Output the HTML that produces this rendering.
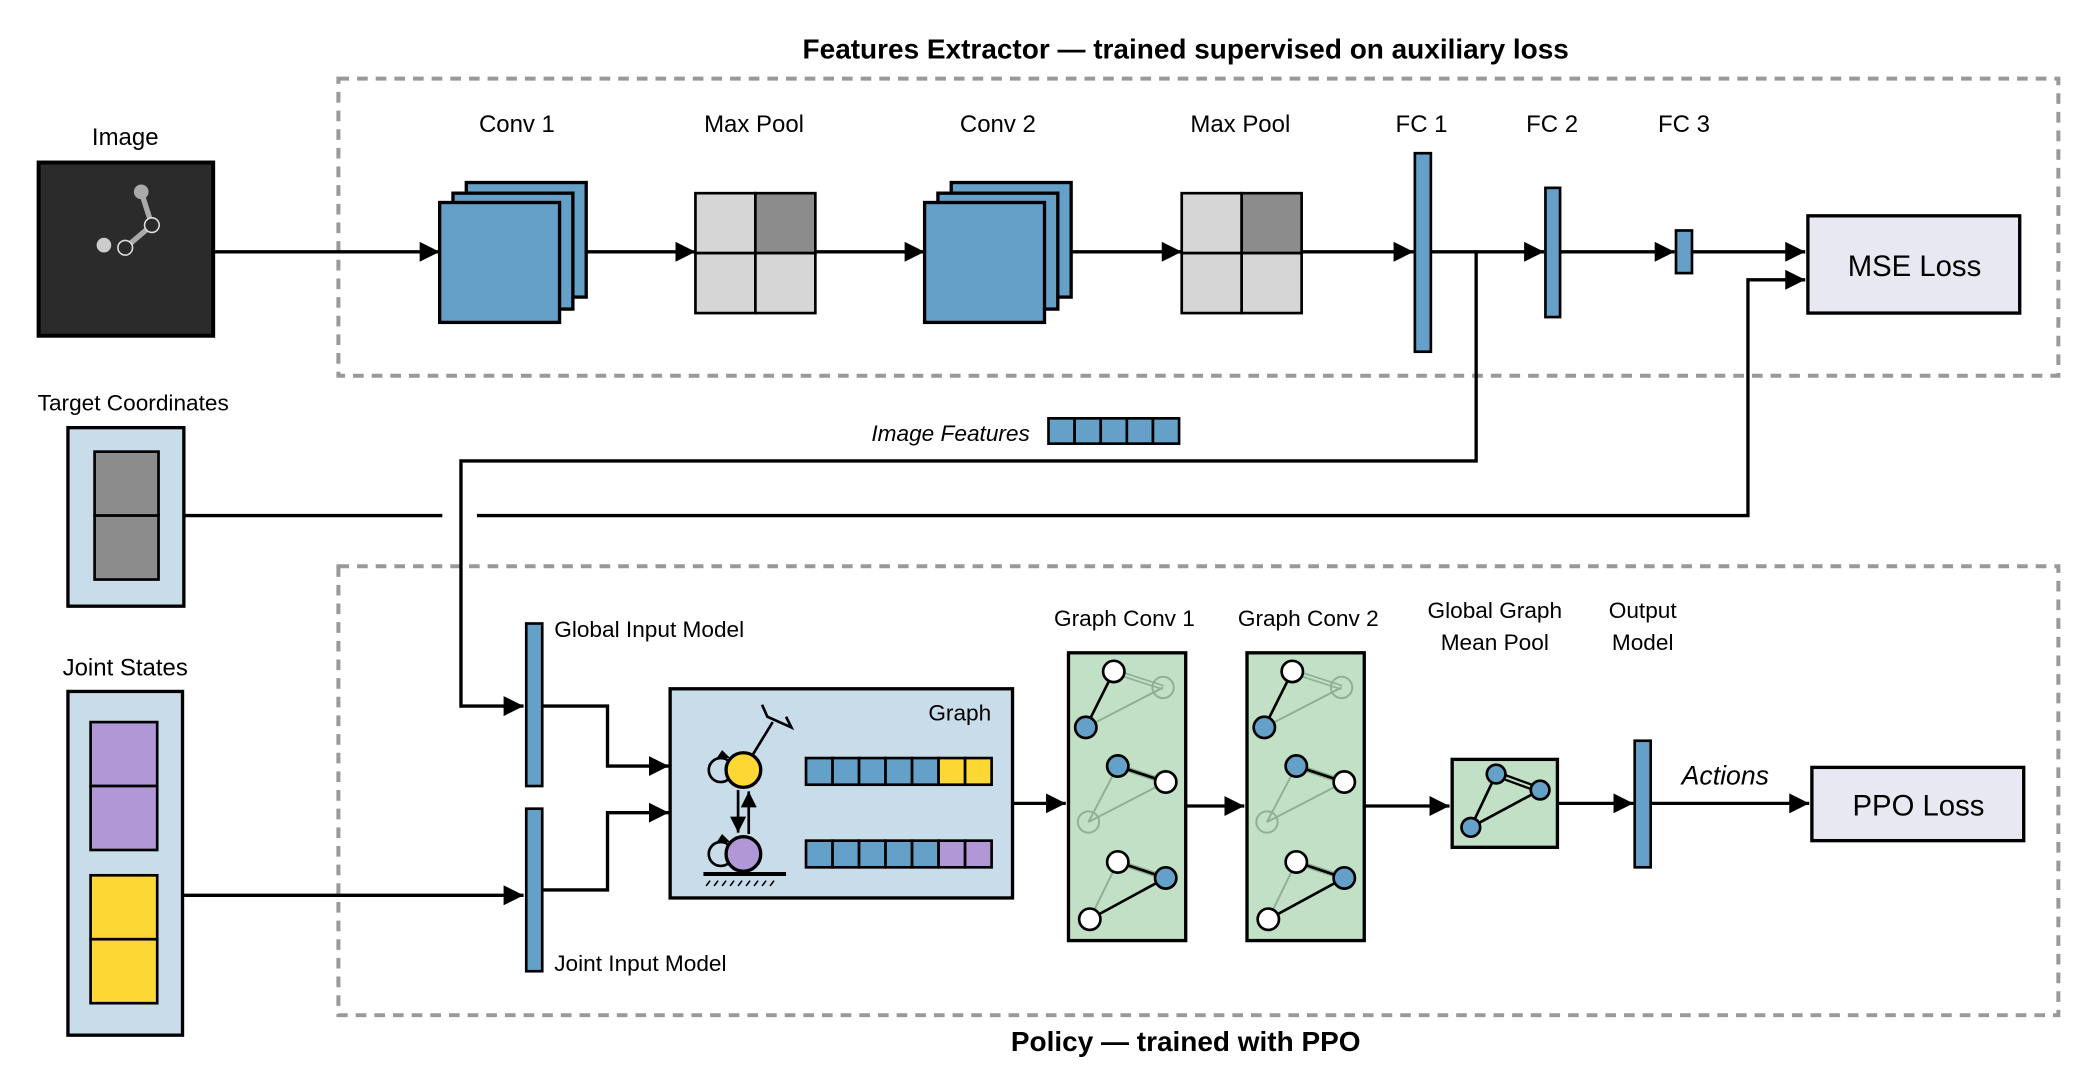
<!DOCTYPE html>
<html><head><meta charset="utf-8"><style>
html,body{margin:0;padding:0;background:#fff;}
svg{display:block;}
text{font-family:"Liberation Sans",sans-serif;fill:#000;}
</style></head><body>
<svg width="2089" height="1081" viewBox="0 0 1568 811.4" preserveAspectRatio="none" xmlns="http://www.w3.org/2000/svg">
<defs>
<marker id="ah" viewBox="0 0 10 10" refX="10" refY="5" markerWidth="6" markerHeight="6" orient="auto" markerUnits="strokeWidth"><path d="M0,0 L10,5 L0,10 z" fill="#000"/></marker>
<marker id="as" viewBox="0 0 10 10" refX="10" refY="5" markerWidth="6" markerHeight="6" orient="auto" markerUnits="strokeWidth"><path d="M0,0 L10,5 L0,10 z" fill="#000"/></marker>
</defs>

<text x="890" y="44" font-size="21" font-weight="bold" text-anchor="middle">Features Extractor — trained supervised on auxiliary loss</text>
<text x="890" y="789" font-size="21" font-weight="bold" text-anchor="middle">Policy — trained with PPO</text>

<rect x="254" y="59" width="1291" height="223" fill="none" stroke="#999" stroke-width="3" stroke-dasharray="8,6"/>
<rect x="254" y="425" width="1291" height="337" fill="none" stroke="#999" stroke-width="3" stroke-dasharray="8,6"/>

<text x="94" y="109" font-size="18" text-anchor="middle">Image</text>
<rect x="29" y="122" width="131" height="130" fill="#2b2b2b" stroke="#000" stroke-width="3"/>
<line x1="106" y1="144" x2="114" y2="169" stroke="#aaa" stroke-width="4"/>
<line x1="114" y1="169" x2="94" y2="186" stroke="#aaa" stroke-width="4"/>
<circle cx="106" cy="144" r="5.5" fill="#aaa"/>
<circle cx="114" cy="169" r="5.5" fill="#2b2b2b" stroke="#ddd" stroke-width="1.2"/>
<circle cx="94" cy="186" r="5.5" fill="#2b2b2b" stroke="#ddd" stroke-width="1.2"/>
<circle cx="78" cy="184" r="5.5" fill="#ccc"/>

<line x1="160" y1="189" x2="330" y2="189" stroke="#000" stroke-width="2.5" marker-end="url(#ah)"/>

<text x="388" y="99" font-size="18" text-anchor="middle">Conv 1</text>
<rect x="350" y="137" width="90" height="86" fill="#65a0c8" stroke="#000" stroke-width="2.5"/>
<rect x="340" y="145" width="90" height="87" fill="#65a0c8" stroke="#000" stroke-width="2.5"/>
<rect x="330" y="152" width="90" height="90" fill="#65a0c8" stroke="#000" stroke-width="2.5"/>
<line x1="440" y1="189" x2="522" y2="189" stroke="#000" stroke-width="2.5" marker-end="url(#ah)"/>

<text x="566" y="99" font-size="18" text-anchor="middle">Max Pool</text>
<rect x="522" y="145" width="45" height="45" fill="#d6d6d6" stroke="#000" stroke-width="2"/>
<rect x="567" y="145" width="45" height="45" fill="#8c8c8c" stroke="#000" stroke-width="2"/>
<rect x="522" y="190" width="45" height="45" fill="#d6d6d6" stroke="#000" stroke-width="2"/>
<rect x="567" y="190" width="45" height="45" fill="#d6d6d6" stroke="#000" stroke-width="2"/>
<line x1="612" y1="189" x2="694" y2="189" stroke="#000" stroke-width="2.5" marker-end="url(#ah)"/>

<text x="749" y="99" font-size="18" text-anchor="middle">Conv 2</text>
<rect x="714" y="137" width="90" height="86" fill="#65a0c8" stroke="#000" stroke-width="2.5"/>
<rect x="704" y="145" width="90" height="87" fill="#65a0c8" stroke="#000" stroke-width="2.5"/>
<rect x="694" y="152" width="90" height="90" fill="#65a0c8" stroke="#000" stroke-width="2.5"/>
<line x1="804" y1="189" x2="887" y2="189" stroke="#000" stroke-width="2.5" marker-end="url(#ah)"/>

<text x="931" y="99" font-size="18" text-anchor="middle">Max Pool</text>
<rect x="887" y="145" width="45" height="45" fill="#d6d6d6" stroke="#000" stroke-width="2"/>
<rect x="932" y="145" width="45" height="45" fill="#8c8c8c" stroke="#000" stroke-width="2"/>
<rect x="887" y="190" width="45" height="45" fill="#d6d6d6" stroke="#000" stroke-width="2"/>
<rect x="932" y="190" width="45" height="45" fill="#d6d6d6" stroke="#000" stroke-width="2"/>
<line x1="977" y1="189" x2="1061" y2="189" stroke="#000" stroke-width="2.5" marker-end="url(#ah)"/>

<text x="1067" y="99" font-size="18" text-anchor="middle">FC 1</text>
<text x="1165" y="99" font-size="18" text-anchor="middle">FC 2</text>
<text x="1264" y="99" font-size="18" text-anchor="middle">FC 3</text>
<rect x="1062" y="115" width="12" height="149" fill="#65a0c8" stroke="#000" stroke-width="2"/>
<line x1="1074" y1="189" x2="1159" y2="189" stroke="#000" stroke-width="2.5" marker-end="url(#ah)"/>
<rect x="1160" y="141" width="11" height="97" fill="#65a0c8" stroke="#000" stroke-width="2"/>
<line x1="1171" y1="189" x2="1257" y2="189" stroke="#000" stroke-width="2.5" marker-end="url(#ah)"/>
<rect x="1258" y="173" width="12" height="32" fill="#65a0c8" stroke="#000" stroke-width="2"/>
<line x1="1270" y1="189" x2="1355" y2="189" stroke="#000" stroke-width="2.5" marker-end="url(#ah)"/>

<rect x="1357" y="162" width="159" height="73" fill="#e8e8f2" stroke="#000" stroke-width="2.5"/>
<text x="1437" y="207" font-size="22" text-anchor="middle">MSE Loss</text>

<polyline points="1108,189 1108,346 346,346 346,530 393,530" fill="none" stroke="#000" stroke-width="2.5" marker-end="url(#ah)"/>
<text x="773" y="331" font-size="17" font-style="italic" text-anchor="end">Image Features</text>
<g fill="#65a0c8" stroke="#000" stroke-width="2">
<rect x="787" y="314" width="19.6" height="19"/><rect x="806.6" y="314" width="19.6" height="19"/><rect x="826.2" y="314" width="19.6" height="19"/><rect x="845.8" y="314" width="19.6" height="19"/><rect x="865.4" y="314" width="19.6" height="19"/>
</g>

<text x="100" y="308" font-size="17" text-anchor="middle">Target Coordinates</text>
<rect x="51" y="321" width="87" height="134" fill="#c8dcea" stroke="#000" stroke-width="2.5"/>
<rect x="71" y="339" width="48" height="48" fill="#8c8c8c" stroke="#000" stroke-width="2"/>
<rect x="71" y="387" width="48" height="48" fill="#8c8c8c" stroke="#000" stroke-width="2"/>
<line x1="138" y1="387" x2="332" y2="387" stroke="#000" stroke-width="2.5"/>
<polyline points="358,387 1312,387 1312,210 1355,210" fill="none" stroke="#000" stroke-width="2.5" marker-end="url(#ah)"/>

<text x="94" y="507" font-size="18" text-anchor="middle">Joint States</text>
<rect x="51" y="519" width="86" height="258" fill="#c8dcea" stroke="#000" stroke-width="2.5"/>
<rect x="68" y="542" width="50" height="48" fill="#b197d6" stroke="#000" stroke-width="2"/>
<rect x="68" y="590" width="50" height="48" fill="#b197d6" stroke="#000" stroke-width="2"/>
<rect x="68" y="657" width="50" height="48" fill="#fdd835" stroke="#000" stroke-width="2"/>
<rect x="68" y="705" width="50" height="48" fill="#fdd835" stroke="#000" stroke-width="2"/>
<line x1="137" y1="672" x2="393" y2="672" stroke="#000" stroke-width="2.5" marker-end="url(#ah)"/>

<rect x="395" y="468" width="12" height="122" fill="#65a0c8" stroke="#000" stroke-width="2"/>
<rect x="395" y="607" width="12" height="122" fill="#65a0c8" stroke="#000" stroke-width="2"/>
<text x="416" y="478" font-size="17">Global Input Model</text>
<text x="416" y="729" font-size="17">Joint Input Model</text>
<polyline points="407,530 456,530 456,575 502,575" fill="none" stroke="#000" stroke-width="2.5" marker-end="url(#ah)"/>
<polyline points="407,668 456,668 456,610 502,610" fill="none" stroke="#000" stroke-width="2.5" marker-end="url(#ah)"/>

<rect x="503" y="517" width="257" height="157" fill="#c8dcea" stroke="#000" stroke-width="2.5"/>
<text x="744" y="541" font-size="17" text-anchor="end">Graph</text>
<line x1="558" y1="578" x2="580" y2="542" stroke="#000" stroke-width="2"/>
<polyline points="572,529 576,538 594,546 590,538" fill="none" stroke="#000" stroke-width="2"/>
<circle cx="541" cy="578" r="9" fill="none" stroke="#000" stroke-width="2"/>
<path d="M538,569 L548,569 L542,563 z" fill="#000"/>
<circle cx="558" cy="578" r="13" fill="#fdd835" stroke="#000" stroke-width="2.5"/>
<circle cx="541" cy="641" r="9" fill="none" stroke="#000" stroke-width="2"/>
<path d="M538,632 L548,632 L542,626 z" fill="#000"/>
<circle cx="558" cy="641" r="13" fill="#b197d6" stroke="#000" stroke-width="2.5"/>
<line x1="554" y1="593" x2="554" y2="625" stroke="#000" stroke-width="2" marker-end="url(#as)"/>
<line x1="562" y1="626" x2="562" y2="594" stroke="#000" stroke-width="2" marker-end="url(#as)"/>
<line x1="528" y1="656" x2="590" y2="656" stroke="#000" stroke-width="3"/>
<path d="M533,661 l-3,4 M539,661 l-3,4 M545,661 l-3,4 M551,661 l-3,4 M557,661 l-3,4 M563,661 l-3,4 M569,661 l-3,4 M575,661 l-3,4 M581,661 l-3,4" stroke="#000" stroke-width="1.2"/>
<g stroke="#000" stroke-width="2">
<rect x="605" y="569" width="19.9" height="20" fill="#65a0c8"/><rect x="624.9" y="569" width="19.9" height="20" fill="#65a0c8"/><rect x="644.8" y="569" width="19.9" height="20" fill="#65a0c8"/><rect x="664.7" y="569" width="19.9" height="20" fill="#65a0c8"/><rect x="684.6" y="569" width="19.9" height="20" fill="#65a0c8"/><rect x="704.5" y="569" width="19.9" height="20" fill="#fdd835"/><rect x="724.4" y="569" width="19.9" height="20" fill="#fdd835"/>
<rect x="605" y="631" width="19.9" height="20" fill="#65a0c8"/><rect x="624.9" y="631" width="19.9" height="20" fill="#65a0c8"/><rect x="644.8" y="631" width="19.9" height="20" fill="#65a0c8"/><rect x="664.7" y="631" width="19.9" height="20" fill="#65a0c8"/><rect x="684.6" y="631" width="19.9" height="20" fill="#65a0c8"/><rect x="704.5" y="631" width="19.9" height="20" fill="#b197d6"/><rect x="724.4" y="631" width="19.9" height="20" fill="#b197d6"/>
</g>
<line x1="760" y1="603" x2="800" y2="603" stroke="#000" stroke-width="2.5" marker-end="url(#ah)"/>

<text x="844" y="470" font-size="17" text-anchor="middle">Graph Conv 1</text>
<text x="982" y="470" font-size="17" text-anchor="middle">Graph Conv 2</text>
<g id="gc">
<rect x="802" y="490" width="88" height="216" fill="#c2e0c5" stroke="#000" stroke-width="2.5"/>
<line x1="836" y1="504" x2="873" y2="516" stroke="#8fb095" stroke-width="4"/>
<line x1="836" y1="504" x2="873" y2="516" stroke="#c2e0c5" stroke-width="1.5"/>
<line x1="815" y1="546" x2="873" y2="516" stroke="#8fb095" stroke-width="1.5"/>
<line x1="836" y1="504" x2="815" y2="546" stroke="#000" stroke-width="2"/>
<circle cx="873" cy="516" r="8" fill="none" stroke="#8fb095" stroke-width="1.5"/>
<circle cx="836" cy="504" r="8" fill="#fff" stroke="#000" stroke-width="2"/>
<circle cx="815" cy="546" r="8" fill="#65a0c8" stroke="#000" stroke-width="2"/>
<line x1="839" y1="575" x2="817" y2="617" stroke="#8fb095" stroke-width="1.5"/>
<line x1="875" y1="587" x2="817" y2="617" stroke="#8fb095" stroke-width="1.5"/>
<line x1="839" y1="575" x2="875" y2="587" stroke="#8fb095" stroke-width="4"/>
<line x1="839" y1="575" x2="875" y2="587" stroke="#000" stroke-width="2"/>
<circle cx="817" cy="617" r="8" fill="none" stroke="#8fb095" stroke-width="1.5"/>
<circle cx="839" cy="575" r="8" fill="#65a0c8" stroke="#000" stroke-width="2"/>
<circle cx="875" cy="587" r="8" fill="#fff" stroke="#000" stroke-width="2"/>
<line x1="839" y1="647" x2="818" y2="690" stroke="#8fb095" stroke-width="1.5"/>
<line x1="839" y1="647" x2="875" y2="659" stroke="#8fb095" stroke-width="4"/>
<line x1="839" y1="647" x2="875" y2="659" stroke="#000" stroke-width="2"/>
<line x1="875" y1="659" x2="818" y2="690" stroke="#000" stroke-width="2"/>
<circle cx="839" cy="647" r="8" fill="#fff" stroke="#000" stroke-width="2"/>
<circle cx="875" cy="659" r="8" fill="#65a0c8" stroke="#000" stroke-width="2"/>
<circle cx="818" cy="690" r="8" fill="#fff" stroke="#000" stroke-width="2"/>
</g>
<use href="#gc" transform="translate(134,0)"/>
<line x1="890" y1="605" x2="934" y2="605" stroke="#000" stroke-width="2.5" marker-end="url(#ah)"/>
<line x1="1024" y1="605" x2="1088" y2="605" stroke="#000" stroke-width="2.5" marker-end="url(#ah)"/>

<text x="1122" y="464" font-size="17" text-anchor="middle">Global Graph</text>
<text x="1122" y="488" font-size="17" text-anchor="middle">Mean Pool</text>
<rect x="1090" y="570" width="79" height="66" fill="#c2e0c5" stroke="#000" stroke-width="2.5"/>
<line x1="1123" y1="581" x2="1156" y2="593" stroke="#000" stroke-width="5"/>
<line x1="1123" y1="581" x2="1156" y2="593" stroke="#c2e0c5" stroke-width="1.5"/>
<line x1="1123" y1="581" x2="1104" y2="621" stroke="#000" stroke-width="2"/>
<line x1="1156" y1="593" x2="1104" y2="621" stroke="#000" stroke-width="2"/>
<circle cx="1123" cy="581" r="7" fill="#65a0c8" stroke="#000" stroke-width="2"/>
<circle cx="1156" cy="593" r="7" fill="#65a0c8" stroke="#000" stroke-width="2"/>
<circle cx="1104" cy="621" r="7" fill="#65a0c8" stroke="#000" stroke-width="2"/>
<line x1="1169" y1="603" x2="1226" y2="603" stroke="#000" stroke-width="2.5" marker-end="url(#ah)"/>

<text x="1233" y="464" font-size="17" text-anchor="middle">Output</text>
<text x="1233" y="488" font-size="17" text-anchor="middle">Model</text>
<rect x="1227" y="556" width="12" height="95" fill="#65a0c8" stroke="#000" stroke-width="2"/>
<text x="1295" y="589" font-size="20" font-style="italic" text-anchor="middle">Actions</text>
<line x1="1239" y1="603" x2="1358" y2="603" stroke="#000" stroke-width="2.5" marker-end="url(#ah)"/>
<rect x="1360" y="576" width="159" height="55" fill="#e8e8f2" stroke="#000" stroke-width="2.5"/>
<text x="1440" y="612" font-size="22" text-anchor="middle">PPO Loss</text>
</svg>
</body></html>
